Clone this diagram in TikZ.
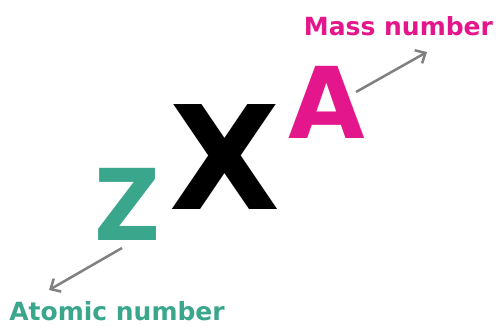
\documentclass[tikz,border=0pt]{standalone}
\usepackage{fontspec}
\setmainfont{DejaVu Sans}
\usetikzlibrary{arrows.meta}
\definecolor{massmagenta}{RGB}{228,22,140}
\definecolor{atomteal}{RGB}{58,166,140}
\definecolor{arrowgray}{RGB}{128,128,128}
\tikzset{
  sym/.style={inner sep=0pt, anchor=base, font=\bfseries\fontsize{99}{99}\selectfont},
  lbl/.style={inner sep=0pt, anchor=base, font=\bfseries\fontsize{25}{25}\selectfont},
  pointer/.style={arrowgray, line width=2.5pt, -{Straight Barb[length=8pt,width=15pt]}}
}
\begin{document}
\begin{tikzpicture}[x=1pt,y=-1pt]
	\useasboundingbox (0,0) rectangle (498,325);

	% Symbols
	\node[sym, text=black, font=\bfseries\fontsize{144}{144}\selectfont] (X) at (225,209) {X};
	\node[sym, text=massmagenta] (A) at (326.5,138) {A};
	\node[sym, text=atomteal] (Z) at (128,240) {\scalebox{0.92}[1]{Z}};

	% Labels
	\node[lbl, text=massmagenta] (mass) at (398.5,35) {Mass number};
	\node[lbl, text=atomteal] (atomic) at (117,320) {Atomic number};

	% Pointers
	\coordinate (mfrom) at (356,92);
	\coordinate (mto) at (427,52);
	\coordinate (zfrom) at (122,248);
	\coordinate (zto) at (49,290);
	\draw[pointer] (mfrom) -- (mto);
	\draw[pointer] (zfrom) -- (zto);
\end{tikzpicture}
\end{document}
